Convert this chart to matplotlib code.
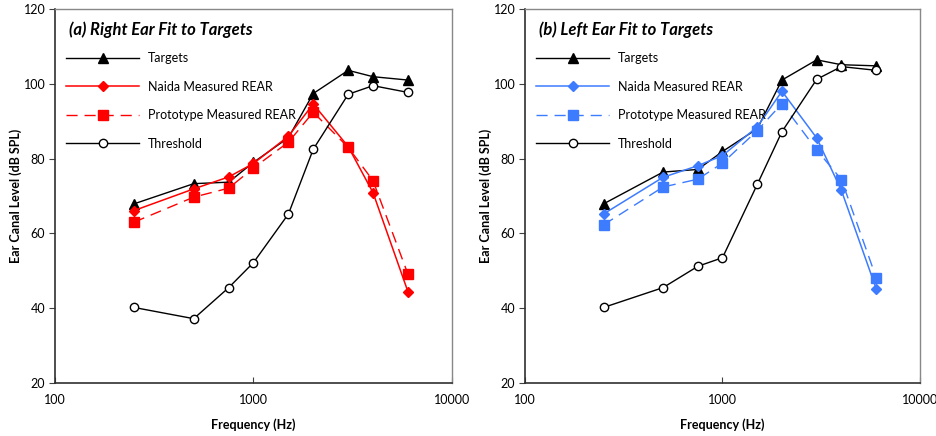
import matplotlib
matplotlib.use("Agg")
import matplotlib.pyplot as plt
from matplotlib.ticker import FixedLocator, NullLocator, FixedFormatter

plt.rcParams['font.family'] = ['Lato', 'DejaVu Sans']

freqs = [250, 500, 750, 1000, 1500, 2000, 3000, 4000, 6000]

right_targets = [67.9, 73.3, 73.7, 79.0, 85.6, 97.4, 103.6, 101.9, 101.0]
right_naida = [66.1, 71.9, 75.1, 78.7, 86.0, 94.6, 83.2, 70.9, 44.4]
right_proto = [63.0, 69.7, 72.1, 77.5, 84.4, 92.4, 83.0, 74.1, 49.1]
right_thresh = [40.2, 37.2, 45.5, 52.2, 65.2, 82.5, 97.2, 99.5, 97.7]

left_targets = [67.9, 76.4, 77.1, 81.9, 88.0, 101.0, 106.4, 105.1, 104.8]
left_naida = [65.2, 75.0, 78.1, 80.8, 88.5, 98.0, 85.5, 71.5, 45.2]
left_proto = [62.3, 72.4, 74.5, 78.8, 87.5, 94.7, 82.3, 74.4, 48.2]
left_thresh = [40.2, 45.5, 51.2, 53.5, 73.1, 87.2, 101.2, 104.6, 103.6]

titles = ["(a) Right Ear Fit to Targets", "(b) Left Ear Fit to Targets"]
labels = ["Targets", "Naida Measured REAR", "Prototype Measured REAR", "Threshold"]
xlabel = "Frequency (Hz)"
ylabel = "Ear Canal Level (dB SPL)"
x_ticks = [100, 1000, 10000]
y_ticks = [20, 40, 60, 80, 100, 120]

RED = "#FF0000"
BLUE = "#3D7BFF"

fig = plt.figure(figsize=(9.37, 4.36), dpi=100)
ax1 = fig.add_axes([55/937, 53/436, 397/937, 374/436])
ax2 = fig.add_axes([525/937, 53/436, 395/937, 374/436])

panels = [
    (ax1, right_targets, right_naida, right_proto, right_thresh, RED, titles[0]),
    (ax2, left_targets, left_naida, left_proto, left_thresh, BLUE, titles[1]),
]

for ax, tg, nd, pr, th, col, title in panels:
    ax.plot(freqs, tg, color="black", lw=1.0, marker="^", ms=6.5,
            mfc="black", mec="black", label=labels[0])
    ax.plot(freqs, nd, color=col, lw=1.1, marker="D", ms=4.8,
            mfc=col, mec=col, label=labels[1])
    ax.plot(freqs, pr, color=col, lw=1.0, marker="s", ms=6.5,
            mfc=col, mec=col, dashes=(8, 5), label=labels[2])
    ax.plot(freqs, th, color="black", lw=1.0, marker="o", ms=6,
            mfc="white", mec="black", mew=1.0, label=labels[3])
    ax.set_xscale("log")
    ax.set_xlim(100, 10000)
    ax.set_ylim(20, 120)
    ax.xaxis.set_major_locator(FixedLocator(x_ticks))
    ax.xaxis.set_major_formatter(FixedFormatter([str(v) for v in x_ticks]))
    ax.xaxis.set_minor_locator(NullLocator())
    ax.set_yticks(y_ticks)
    ax.tick_params(axis="x", direction="in", length=4, labelsize=9, pad=8, color="#404040")
    ax.tick_params(axis="y", direction="out", length=4, labelsize=9, pad=3, color="#404040")
    for s in ["top", "right"]:
        ax.spines[s].set_color("#888888")
        ax.spines[s].set_linewidth(1.0)
    for s in ["left", "bottom"]:
        ax.spines[s].set_color("#303030")
        ax.spines[s].set_linewidth(1.2)
    ax.set_xlabel(xlabel, fontsize=9, fontweight="bold", labelpad=9)
    ax.set_ylabel(ylabel, fontsize=9, fontweight="bold", labelpad=1)
    ax.text(0.035, 0.945, title, transform=ax.transAxes, fontsize=12,
            fontweight="bold", fontstyle="italic", ha="left", va="center")
    leg = ax.legend(loc="upper left", bbox_to_anchor=(0.01, 0.905), frameon=False,
                    handlelength=5.8, handletextpad=0.7, labelspacing=1.32,
                    fontsize=9, borderaxespad=0.2)

fig.savefig("out.png", dpi=100)
